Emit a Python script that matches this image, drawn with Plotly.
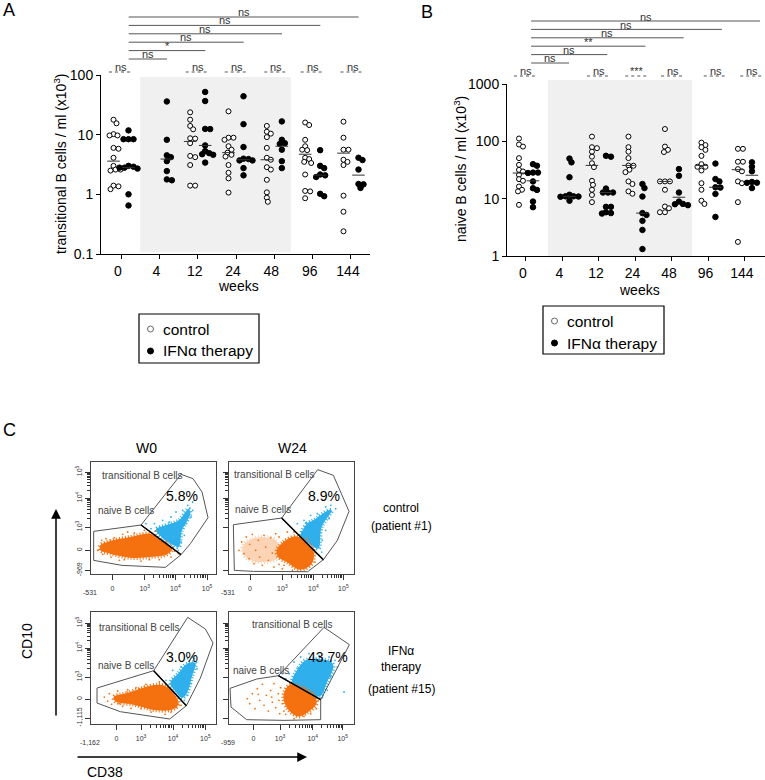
import numpy as np
import plotly.graph_objects as go

W, H = 765, 780
FONT = "Liberation Sans"
ORANGE = "#f5700f"
BLUE = "#2fb0ec"

weeks = ["0", "4", "12", "24", "48", "96", "144"]
pair_labels_a = ["ns", "*", "ns", "ns", "ns", "ns"]
pair_labels_b = ["ns", "ns", "**", "ns", "ns", "ns"]
group_labels_a = ["ns", "", "ns", "ns", "ns", "ns", "ns"]
group_labels_b = ["ns", "", "ns", "***", "ns", "ns", "ns"]

# panel A, cells x10^3 / ml
a_control = [
    [17.8, 15.5, 10.2, 9.7, 9.7, 6, 5.8, 4.1, 3.0, 2.6, 2.5, 2.6, 1.4, 1.36, 1.22],
    [],
    [23.7, 17.8, 14, 12.3, 8.7, 8.6, 7.2, 4.4, 4.2, 3.1, 1.4, 1.4],
    [24.6, 8.9, 8.9, 8.2, 6.4, 5.6, 5, 4.6, 4.3, 3.1, 2.3, 1.85, 1.07],
    [14, 11.2, 10.4, 9.1, 6, 4.1, 3.8, 2.85, 2.6, 1.75, 1.08, 0.88, 0.75],
    [16, 14.5, 8.2, 6.4, 5.5, 5.6, 4.1, 3.9, 3.5, 3.35, 2.15, 1.14, 1.12, 0.86],
    [16.5, 8.9, 5.6, 5.6, 3.8, 3.5, 3.1, 0.95, 0.51, 0.24],
]
a_ifn = [
    [11.8, 8.4, 8.4, 8.4, 3.0, 2.9, 2.8, 2.8, 2.7, 1.0, 0.65],
    [36, 8.2, 4.5, 4.2, 3.6, 2.45, 1.78, 1.72],
    [52, 36.6, 12.5, 12.4, 6.6, 5.3, 4.9, 4.7, 4.6, 3.4],
    [44, 15, 6.2, 3.96, 3.9, 3.7, 3.7, 2.75, 2.08],
    [16.7, 8.2, 7.2, 7, 5.6, 3.6, 2.75],
    [5.5, 3.0, 2.75, 2.15, 2.08, 1.95, 1.02, 0.93],
    [4.1, 3.75, 2.6, 1.49, 1.47, 1.28],
]
a_control_med = [3.6, None, 7.7, 5, 3.8, 4.7, 4.9]
a_ifn_med = [2.8, 3.9, 6.6, 3.8, 6.4, 2.1, 2.1]

# panel B
b_control = [
    [112, 88, 81, 50.9, 38.9, 31.8, 29.8, 26, 21.9, 20.5, 16.3, 14.3, 13.4, 7.8],
    [],
    [121, 79, 76, 66, 54, 41.5, 35.5, 20.5, 17.4, 14.3, 11.6, 8.7],
    [121, 79, 66, 51, 37.8, 37.5, 32, 29, 20, 18, 13.4, 12.2],
    [164, 81, 71, 65, 20, 20, 20, 14.3, 7.3, 6.8, 5.8, 5.8],
    [95, 86, 79, 71, 55.7, 40, 36, 36, 31, 18.6, 14.3, 9.2, 8.1],
    [74, 74, 44, 44, 32.8, 30, 20, 18.6, 8.7, 1.76],
]
b_ifn = [
    [40, 37.5, 28.5, 28.5, 28, 20, 15.2, 14.2, 8.9, 7.1],
    [50, 43, 23.7, 11.7, 11, 11, 10.9, 10.8, 9.2],
    [56, 54, 15, 12.8, 12.8, 12.8, 7.2, 7.2, 5.8, 5.6, 5.5],
    [18, 15.3, 10.9, 5.6, 5.2, 4.1, 2.85, 1.32],
    [32.8, 25, 12.8, 8.9, 8.1, 8, 7.7],
    [40.9, 22, 20, 15.8, 15.6, 12.1, 4.8],
    [43, 36, 30, 19.6, 19, 18.9, 15.3],
]
b_control_med = [28, None, 38, 38, 20, 38, 32]
b_ifn_med = [20.5, 11, 12.8, 5.6, 10.6, 15.8, 25.6]

# flow panels: gates and clouds in channel units of each frame (374 x 335)
flow_titles = ["W0", "W24"]
flow_pct = ["5.8%", "8.9%", "3.0%", "43.7%"]

p1_naive = [(8, 127), (150, 146), (270, 57), (223, 19), (93, 25), (8, 40)]
p1_trans = [(150, 146), (270, 298), (306, 285), (333, 245), (351, 168), (298, 90), (270, 57)]
p1_orange = [(28, 85), (58, 98), (118, 110), (178, 120), (208, 100), (243, 75), (228, 58), (178, 50), (118, 48), (58, 60), (28, 70)]
p1_blue = [(195, 133), (223, 145), (263, 160), (293, 195), (298, 180), (273, 130), (263, 80), (248, 85), (213, 108)]
p1_orange_specks = [(20, 70), (32, 100), (45, 105), (70, 108), (95, 118), (130, 122), (160, 130), (195, 128), (225, 95), (250, 68), (262, 60), (240, 50), (205, 42), (150, 38), (100, 42), (60, 50), (35, 58), (110, 125), (85, 40), (175, 42)]
p1_blue_specks = [(165, 150), (190, 150), (215, 160), (240, 170), (255, 185), (275, 190), (290, 205), (305, 190), (300, 170), (285, 150), (280, 115), (270, 95), (262, 70), (245, 80), (180, 135), (305, 215), (285, 175), (235, 155)]

p2_naive = [(13, 147), (158, 167), (283, 42), (236, 6), (73, 7), (16, 10)]
p2_trans = [(158, 167), (266, 312), (313, 295), (360, 187), (325, 100), (283, 42)]
p2_orange = [(143, 70), (163, 95), (198, 112), (218, 105), (253, 70), (248, 30), (213, 12), (173, 35), (148, 50)]
p2_sparse = [(40, 80), (70, 105), (140, 100), (150, 50), (90, 35), (50, 50)]
p2_blue = [(213, 105), (233, 150), (253, 160), (298, 190), (308, 190), (278, 140), (268, 75), (248, 85), (223, 105)]
p2_orange_specks = [(30, 70), (38, 95), (45, 60), (52, 110), (60, 45), (62, 88), (70, 118), (75, 30), (80, 70), (88, 100), (92, 50), (100, 25), (105, 115), (110, 80), (118, 40), (125, 108), (130, 62), (135, 20), (140, 120), (150, 28), (160, 15), (150, 110), (175, 125), (195, 125), (235, 105), (262, 60), (258, 35), (230, 18), (190, 10), (165, 25)]
p2_blue_specks = [(225, 160), (245, 175), (265, 180), (290, 200), (305, 205), (320, 195), (300, 165), (290, 130), (280, 100), (278, 65), (270, 55), (240, 135), (218, 125), (205, 150)]

p3_naive = [(18, 107), (188, 159), (286, 54), (236, 14), (88, 36), (18, 62)]
p3_trans = [(188, 159), (290, 319), (343, 284), (366, 242), (328, 137), (286, 54)]
p3_orange = [(68, 80), (108, 92), (198, 117), (228, 110), (263, 62), (248, 44), (198, 40), (128, 57), (73, 67)]
p3_blue = [(238, 122), (263, 152), (288, 180), (313, 182), (303, 142), (288, 92), (273, 77), (253, 97)]
p3_orange_specks = [(40, 80), (50, 68), (55, 90), (62, 58), (80, 98), (95, 52), (110, 102), (120, 46), (135, 108), (150, 45), (165, 118), (180, 35), (205, 125), (222, 28), (255, 48), (270, 55), (240, 35), (160, 112), (85, 60), (145, 105)]
p3_blue_specks = [(225, 130), (245, 160), (270, 170), (290, 195), (310, 195), (318, 165), (300, 120), (290, 85), (280, 70), (265, 140), (250, 110), (305, 200), (285, 125)]

p4_naive = [(3, 106), (83, 134), (148, 144), (275, 72), (275, 12), (165, 10), (53, 12), (6, 50)]
p4_trans = [(148, 144), (285, 289), (361, 237), (323, 162), (275, 72)]
p4_orange = [(163, 82), (183, 117), (253, 87), (263, 62), (233, 32), (208, 22), (178, 42)]
p4_blue = [(188, 117), (208, 167), (233, 192), (303, 187), (313, 172), (293, 122), (273, 82), (223, 102)]
p4_orange_specks = [(55, 75), (62, 60), (70, 90), (78, 45), (85, 105), (92, 70), (100, 118), (105, 55), (112, 85), (118, 38), (125, 100), (130, 65), (135, 120), (140, 48), (148, 90), (152, 30), (155, 108), (160, 60), (165, 38), (170, 28), (195, 15), (225, 22), (245, 30), (262, 45), (268, 70), (150, 70), (128, 80), (88, 88)]
p4_blue_specks = [(170, 135), (180, 150), (195, 185), (215, 200), (240, 210), (270, 205), (300, 200), (318, 190), (325, 170), (305, 140), (295, 100), (280, 78), (345, 95), (160, 150), (205, 140)]

p_ticks_x = [[64, 161, 253, 348], [63, 160, 253, 343], [76, 150, 246, 343], [73, 153, 251, 341]]
p_ticks_y = [[10, 70, 140, 227, 305], [10, 70, 140, 227, 305], [17, 74, 140, 227, 302], [17, 74, 140, 227, 302]]
x_tick_text = ["0", "10<sup>3</sup>", "10<sup>4</sup>", "10<sup>5</sup>"]
x_min_text = ["-531", "-531", "-1,162", "-959"]
y_min_text = ["-969", "", "-1,115", ""]


def px(x):
    return x / W


def py(y):
    return 1 - y / H


def swarm(values, decade_px, gap=4.2):
    # simple beeswarm on screen distance, returns x offsets in px
    ys = [np.log10(v) * decade_px for v in values]
    placed, out = [], []
    for y in ys:
        for step in range(0, 40):
            dx = (step + 1) // 2 * (1 if step % 2 else -1)
            if all((dx - a) ** 2 + (y - b) ** 2 >= gap ** 2 for a, b in placed):
                placed.append((dx, y))
                out.append(dx)
                break
    return out


fig = go.Figure()
shapes, notes = [], []


def note(x, y, text, size=12, xref="paper", yref="paper", color="black", xanchor="center", **kw):
    notes.append(dict(x=x, y=y, xref=xref, yref=yref, text=text, showarrow=False, xanchor=xanchor, yanchor="middle",
                      font=dict(family=FONT, size=size, color=color), **kw))


def strip_panel(xname, yname, control, ifn, control_med, ifn_med, unit, decade, shift):
    xa, ya = xname, yname
    for i in range(len(weeks)):
        for vals, med, side, fill, size in [(control[i], control_med[i], -shift, "white", 5),
                                            (ifn[i], ifn_med[i], shift, "black", 5.5)]:
            if not vals:
                continue
            off = swarm(vals, decade)
            fig.add_trace(go.Scatter(x=[i + (side + d) / unit for d in off], y=vals, mode="markers",
                                     xaxis=xa, yaxis=ya, showlegend=False, cliponaxis=False,
                                     marker=dict(size=size, color=fill, line=dict(color="black", width=1))))
            fig.add_trace(go.Scatter(x=[i + side / unit], y=[med], mode="markers",
                                     xaxis=xa, yaxis=ya, showlegend=False,
                                     marker=dict(symbol="line-ew", size=9, line=dict(color="#333", width=1))))


strip_panel("x", "y", a_control, a_ifn, a_control_med, a_ifn_med, 38.33, 59.67, 7.5)
strip_panel("x2", "y2", b_control, b_ifn, b_control_med, b_ifn_med, 36.5, 57.4, 7)

# gray treatment bands
shapes.append(dict(type="rect", xref="x", yref="paper", x0=0.5, x1=4.43, y0=py(252), y1=py(77),
                   fillcolor="#f0f0f0", line_width=0, layer="below"))
shapes.append(dict(type="rect", xref="x2", yref="paper", x0=0.6, x1=4.55, y0=py(256), y1=py(80),
                   fillcolor="#f0f0f0", line_width=0, layer="below"))

# comparison brackets against week 0
for k, lab in enumerate(pair_labels_a):
    yl = 59 - 8.4 * k
    shapes.append(dict(type="line", xref="x", yref="paper", x0=0.2, x1=k + 1.2, y0=py(yl), y1=py(yl),
                       line=dict(color="#555", width=1)))
    note((k + 1.2 + 0.2) / 2, py(yl - 5), lab, 11, xref="x", color="#333")
for k, lab in enumerate(pair_labels_b):
    yl = 63 - 8.4 * k
    end = 1.18 + k * 1.047
    shapes.append(dict(type="line", xref="x2", yref="paper", x0=0.14, x1=end, y0=py(yl), y1=py(yl),
                       line=dict(color="#555", width=1)))
    note((end + 0.14) / 2, py(yl - 4.5), lab, 11, xref="x2", color="#333")

# per-week comparisons
centers_a = [0, 1, 2, 3.02, 4.05, 5, 6.04]
centers_b = [0, 1, 2, 3.05, 4.03, 5.2, 6.2]
for xr, centers, labels, unit, yl in [("x", centers_a, group_labels_a, 38.33, 72),
                                      ("x2", centers_b, group_labels_b, 36.5, 76)]:
    for c, lab in zip(centers, labels):
        if not lab:
            continue
        shapes.append(dict(type="line", xref=xr, yref="paper", x0=c - 12 / unit, x1=c + 12 / unit,
                           y0=py(yl), y1=py(yl), line=dict(color="#555", width=1, dash="3px,3px")))
        note(c, py(yl - 5), lab, 11, xref=xr, color="#333")

axis_font = dict(family=FONT, size=14, color="black")
common_x = dict(tickmode="array", tickvals=list(range(7)), ticktext=weeks, showgrid=False, zeroline=False,
                showline=True, linecolor="black", linewidth=1, ticks="outside", ticklen=4,
                tickcolor="black", tickfont=axis_font, ticklabelshift=-3)
common_y = dict(type="log", showgrid=False, zeroline=False, showline=True, linecolor="black", linewidth=1,
                ticks="outside", ticklen=4, tickcolor="black", tickfont=axis_font)

layout = dict(
    xaxis=dict(domain=[px(101), px(370)], range=[-0.522, 6.496], anchor="y", **common_x),
    yaxis=dict(domain=[py(254), py(75)], range=[-1, 2], anchor="x", tickmode="array",
               tickvals=[0.1, 1, 10, 100], ticktext=["0.1", "1", "10", "100"], **common_y),
    xaxis2=dict(domain=[px(507), px(765)], range=[-0.52, 6.55], anchor="y2", **common_x),
    yaxis2=dict(domain=[py(256), py(84)], range=[0, 3], anchor="x2", tickmode="array",
                tickvals=[1, 10, 100, 1000], ticktext=["1", "10", "100", "1000"], **common_y),
)

note(px(60), py(164), "transitional B cells / ml (x10<sup>3</sup>)", 14, textangle=-90)
note(px(460), py(169), "naive B cells / ml (x10<sup>3</sup>)", 14, textangle=-90)
note(px(238), py(286), "weeks", 14)
note(px(639), py(290), "weeks", 14)
note(px(9), py(10), "A", 18)
note(px(427), py(12), "B", 18)
note(px(9), py(430), "C", 18)

# legends
for x0, x1, y0, y1 in [(139, 259, 314, 363), (543, 664, 306, 354)]:
    shapes.append(dict(type="rect", xref="paper", yref="paper", x0=px(x0), x1=px(x1), y0=py(y1), y1=py(y0),
                       line=dict(color="black", width=1.2)))
    for yy, label, fill, r, edge in [(y0 + 15, "control", "white", 3, "#666"), (y0 + 37, "IFNα therapy", "black", 3, "black")]:
        shapes.append(dict(type="circle", xref="paper", yref="paper", xsizemode="pixel", ysizemode="pixel",
                           xanchor=px(x0 + 11.5), yanchor=py(yy), x0=-r, x1=r, y0=-r, y1=r,
                           fillcolor=fill, line=dict(color=edge, width=1)))
        note(px(x0 + 22), py(yy), label, 15.5, xanchor="left")

# flow panels
flow = [
    (91, 462, p1_naive, p1_trans, p1_orange, p1_blue, p1_orange_specks, p1_blue_specks, None),
    (229, 462, p2_naive, p2_trans, p2_orange, p2_blue, p2_orange_specks, p2_blue_specks, p2_sparse),
    (91, 612, p3_naive, p3_trans, p3_orange, p3_blue, p3_orange_specks, p3_blue_specks, None),
    (229, 612, p4_naive, p4_trans, p4_orange, p4_blue, p4_orange_specks, p4_blue_specks, None),
]
text_pos = [
    ((153, 295), (104, 189), (273, 233)),
    ((135, 299), (101, 193), (286, 233)),
    ((145, 289), (104, 174), (274, 200)),
    ((189, 299), (97, 160), (298, 200)),
]


def minor_ticks(majors):
    out = []
    for lo, hi in zip(majors[-3:-1], majors[-2:]):
        out += [lo + (hi - lo) * np.log10(k) for k in range(2, 10)]
    return [float(v) for v in out]


for n, (left, top, naive, trans, orange, blue, ospk, bspk, sparse) in enumerate(flow):
    xa, ya = f"x{n + 3}", f"y{n + 3}"
    pane = dict(xaxis=xa, yaxis=ya, showlegend=False, hoverinfo="skip")
    for poly, col, op in [(blue, BLUE, 1), (orange, ORANGE, 1)] + ([(sparse, ORANGE, 0.3)] if sparse else []):
        fig.add_trace(go.Scatter(x=[p[0] for p in poly] + [poly[0][0]], y=[p[1] for p in poly] + [poly[0][1]],
                                 mode="lines", fill="toself", fillcolor=col, opacity=op,
                                 line=dict(color=col, width=4, dash="1px,2px", shape="spline"), **pane))
    for spk, col in [(ospk, ORANGE), (bspk, BLUE)]:
        fig.add_trace(go.Scatter(x=[p[0] for p in spk], y=[p[1] for p in spk], mode="markers",
                                 marker=dict(size=1.8, color=col), **pane))
    for gate in (naive, trans):
        fig.add_trace(go.Scatter(x=[p[0] for p in gate] + [gate[0][0]], y=[p[1] for p in gate] + [gate[0][1]],
                                 mode="lines", line=dict(color="#555", width=1), **pane))
    fig.add_trace(go.Scatter(x=[trans[0][0], trans[-1][0]], y=[trans[0][1], trans[-1][1]], mode="lines",
                             line=dict(color="black", width=1.5), **pane))

    tick_font = dict(family=FONT, size=7, color="#333")
    tx, ty = p_ticks_x[n], p_ticks_y[n]
    layout[f"xaxis{n + 3}"] = dict(
        domain=[px(left), px(left + 124.7)], range=[0, 374], anchor=ya, mirror=True, showline=True,
        linecolor="#444", linewidth=1, showgrid=False, zeroline=False, ticks="outside", ticklen=5, tickcolor="#333",
        tickmode="array", tickvals=tx, ticktext=x_tick_text, tickfont=tick_font, ticklabelstandoff=3,
        minor=dict(ticks="outside", ticklen=3, tickcolor="#333", tickmode="array", tickvals=minor_ticks(tx), showgrid=False))
    show_y = left == 91
    layout[f"yaxis{n + 3}"] = dict(
        domain=[py(top + 111.7), py(top)], range=[0, 335], anchor=xa, mirror=True, showline=True,
        linecolor="#444", linewidth=1, showgrid=False, zeroline=False, ticks="outside", ticklen=5, tickcolor="#333",
        tickmode="array", tickvals=ty, ticktext=[y_min_text[n], "0"] + x_tick_text[1:], tickfont=tick_font,
        tickangle=-90, showticklabels=show_y,
        minor=dict(ticks="outside", ticklen=3, tickcolor="#333", tickmode="array", tickvals=minor_ticks(ty), showgrid=False))

    (tr, na, pc) = text_pos[n]
    note(tr[0], tr[1], "transitional B cells", 10, xref=xa, yref=ya, color="#444")
    note(na[0], na[1], "naive B cells", 10, xref=xa, yref=ya, color="#444")
    note(pc[0], pc[1], flow_pct[n], 14, xref=xa, yref=ya)
    note(px(left - 1), py(top + 130), x_min_text[n], 7, color="#333")

note(px(146), py(448), flow_titles[0], 14)
note(px(292), py(448), flow_titles[1], 14)
note(px(401), py(508), "control", 12)
note(px(401), py(526), "(patient #1)", 12)
note(px(401), py(651), "IFNα", 12)
note(px(401), py(667), "therapy", 12)
note(px(401), py(689), "(patient #15)", 12)
note(px(27), py(641), "CD10", 14, textangle=-90)
note(px(105), py(772), "CD38", 14)

# CD10 / CD38 arrows
for x0, y0, x1, y1 in [(56, 717, 56, 509), (76, 757, 307, 757)]:
    notes.append(dict(x=px(x1), y=py(y1), ax=x0 - x1, ay=y0 - y1, xref="paper", yref="paper", axref="pixel",
                      ayref="pixel", text="", showarrow=True, arrowhead=2, arrowsize=1.3, arrowwidth=1.5,
                      arrowcolor="black"))

fig.update_layout(width=W, height=H, margin=dict(l=0, r=0, t=0, b=0, autoexpand=False), autosize=False,
                  paper_bgcolor="white", plot_bgcolor="rgba(0,0,0,0)", shapes=shapes, annotations=notes,
                  font=dict(family=FONT), **layout)

fig.write_html("out.html", post_script="document.body.style.margin='0px';", config=dict(displayModeBar=False))
